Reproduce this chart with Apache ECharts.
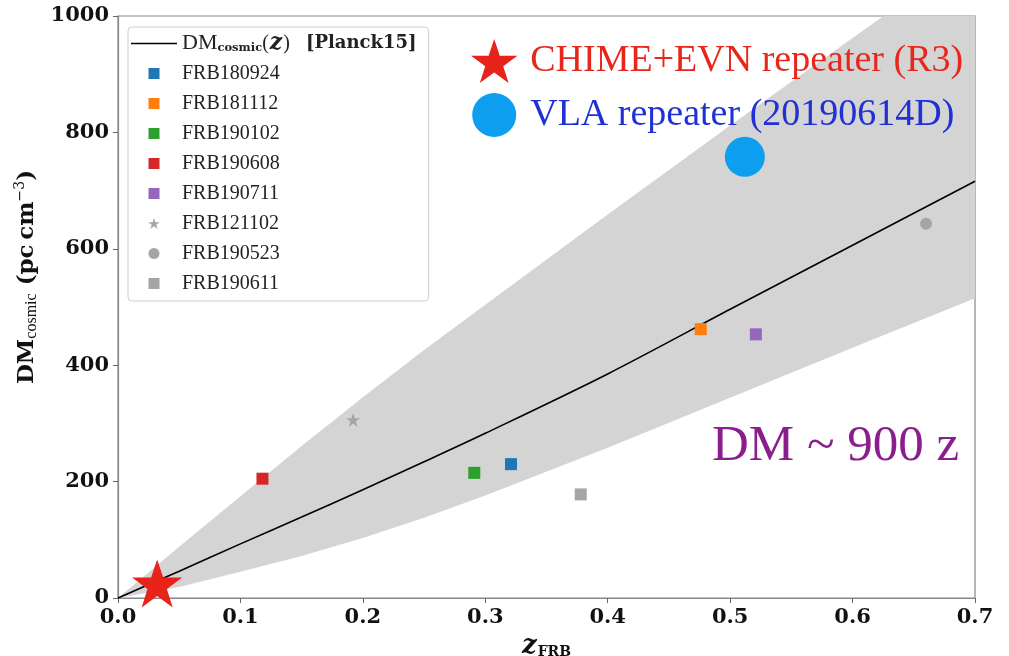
<!DOCTYPE html>
<html>
<head>
<meta charset="utf-8">
<script src="https://cdn.jsdelivr.net/npm/echarts@6/dist/echarts.min.js"></script>
<style>html,body{margin:0;padding:0;background:#fff;overflow:hidden;width:100%;height:100%;}#c{width:100vw;height:100vh;}</style>
</head>
<body>
<div id="c"></div>
<script>
// ---- data ----
const frbNames  = ['FRB180924','FRB181112','FRB190102','FRB190608','FRB190711','FRB121102','FRB190523','FRB190611'];
const frbZ      = [0.321, 0.476, 0.291, 0.118, 0.521, 0.192, 0.660, 0.378];
const frbDM     = [230, 462, 215, 205, 453, 306, 643, 178];
const frbColors = ['#1f77b4','#ff7f0e','#2ca02c','#d62728','#9467bd','#a5a5a5','#a5a5a5','#a5a5a5'];
const frbShapes = ['square','square','square','square','square','star','circle','square'];

const curveZ     = [0, 0.05, 0.1, 0.15, 0.2, 0.25, 0.3, 0.4, 0.5, 0.6, 0.7];
const curveMean  = [0, 46, 93, 139, 186, 234, 283, 385, 496, 606, 716];
const curveLower = [0, 19, 45, 72, 103, 138, 176, 258, 344, 430, 515];
const curveUpper = [0, 88, 175, 261, 345, 426, 504, 659, 812, 962, 1112];

const r3Name = 'CHIME+EVN repeater (R3)';
const r3Z = [0.032], r3DM = [25];
const vlaName = 'VLA repeater (20190614D)';
const vlaZ = [0.512], vlaDM = [758];

const xTicks = [0, 0.1, 0.2, 0.3, 0.4, 0.5, 0.6, 0.7];
const yTicks = [0, 200, 400, 600, 800, 1000];
const meanName = 'DMcosmic';

// ---- build ----
const STAR = 'path://M50,0 L61.8,35.1 L98.9,35.1 L69,57.3 L80.3,92.7 L50,70.5 L19.7,92.7 L31,57.3 L1.1,35.1 L38.2,35.1 Z';
const SQUARE = 'path://M0,0 L10,0 L10,10 L0,10 Z';
const LINE = 'path://M0,0 L100,0 L100,3.4 L0,3.4 Z';
const symMap = {square: SQUARE, star: STAR, circle: 'circle'};
const sizeMap = {square: 12, star: 14, circle: 12};

const series = [];
series.push({
  name: 'band', type: 'custom', clip: true, silent: true, z: 1,
  data: [0],
  renderItem: function (params, api) {
    const pts = [];
    curveZ.forEach((z, i) => pts.push(api.coord([z, curveUpper[i]])));
    for (let i = curveZ.length - 1; i >= 0; i--) pts.push(api.coord([curveZ[i], curveLower[i]]));
    return {type: 'polygon', shape: {points: pts}, style: {fill: '#d4d4d4'}};
  }
});
series.push({
  name: meanName, type: 'line', symbol: 'none', showSymbol: false,
  data: curveZ.map((z, i) => [z, curveMean[i]]),
  lineStyle: {color: '#000', width: 1.6}, z: 3, smooth: 0.3
});
frbNames.forEach((n, i) => {
  series.push({
    name: n, type: 'scatter', clip: false,
    symbol: symMap[frbShapes[i]], symbolSize: sizeMap[frbShapes[i]],
    itemStyle: {color: frbColors[i], opacity: 1},
    data: [[frbZ[i], frbDM[i]]], z: 4
  });
});
series.push({
  name: r3Name, type: 'scatter', clip: false, symbol: STAR, symbolSize: [50, 48],
  itemStyle: {color: '#e8231a', opacity: 1}, data: r3Z.map((z, i) => [z, r3DM[i]]), z: 5
});
series.push({
  name: vlaName, type: 'scatter', clip: false, symbol: 'circle', symbolSize: 40,
  itemStyle: {color: '#0d9ef0', opacity: 1}, data: vlaZ.map((z, i) => [z, vlaDM[i]]), z: 5
});

const legendData = [{name: meanName, icon: LINE, itemStyle: {color: '#000'}}].concat(
  frbNames.map((n, i) => ({name: n, icon: symMap[frbShapes[i]]}))
);

const serif = '"Liberation Serif", "DejaVu Serif", serif';
const dserif = '"DejaVu Serif", serif';

const option = {
  animation: false,
  backgroundColor: '#fff',
  grid: {left: 118, right: 34, top: 16, bottom: 58, outerBoundsMode: 'none', containLabel: false,
         show: true, borderColor: '#888', borderWidth: 1.2},
  xAxis: {
    type: 'value', min: xTicks[0], max: xTicks[xTicks.length - 1], interval: 0.1,
    axisLine: {lineStyle: {color: '#888', width: 1.2}},
    axisTick: {show: true, length: 5, lineStyle: {color: '#666'}},
    splitLine: {show: false},
    axisLabel: {formatter: v => v.toFixed(1), fontFamily: dserif, fontWeight: 'bold', fontSize: 21, color: '#111', margin: 9},
    name: '{z|z}{s|FRB}', nameLocation: 'middle', nameGap: 31,
    nameTextStyle: {
      rich: {
        z: {fontFamily: dserif, fontStyle: 'italic', fontWeight: 'bold', fontSize: 26, color: '#111'},
        s: {fontFamily: dserif, fontWeight: 'bold', fontSize: 14, color: '#111', padding: [12, 0, 0, 1]}
      }
    }
  },
  yAxis: {
    type: 'value', min: yTicks[0], max: yTicks[yTicks.length - 1], interval: 200,
    axisLine: {show: true, lineStyle: {color: '#888', width: 1.2}},
    axisTick: {show: true, length: 5, lineStyle: {color: '#666'}},
    splitLine: {show: false},
    axisLabel: {formatter: v => String(v), fontFamily: dserif, fontWeight: 'bold', fontSize: 21, color: '#111', margin: 9},
    name: '{b|DM}{s|cosmic}{b| (pc\u2009cm}{p|\u22123}{b|)}', nameLocation: 'middle', nameGap: 52, nameRotate: 90,
    nameTextStyle: {
      padding: [0, 0, 0, 60],
      rich: {
        b: {fontFamily: dserif, fontWeight: 'bold', fontSize: 23, color: '#111'},
        s: {fontFamily: serif, fontSize: 16, color: '#111', padding: [10, 0, 0, 0]},
        p: {fontFamily: dserif, fontSize: 14, color: '#111', padding: [0, 0, 12, 0]}
      }
    }
  },
  legend: [{
    orient: 'vertical', left: 128, top: 27,
    padding: [5, 12, 6, 3], itemGap: 7, itemWidth: 46, itemHeight: 11,
    backgroundColor: '#fff', borderColor: '#cfcfcf', borderWidth: 1, borderRadius: 4,
    selectedMode: false,
    data: legendData,
    formatter: function (name) {
      if (name === meanName) return '{dm|DM}{sub|cosmic}{r|(}{it|z}{r|)}   {bb|[Planck15]}';
      return '{r|' + name + '}';
    },
    textStyle: {
      color: '#222', lineHeight: 23,
      rich: {
        r: {fontFamily: serif, fontSize: 20, color: '#222', lineHeight: 23},
        dm: {fontFamily: serif, fontSize: 22, color: '#222', lineHeight: 23},
        sub: {fontFamily: dserif, fontWeight: 'bold', fontSize: 11.5, color: '#222', padding: [9, 0, 0, 0]},
        it: {fontFamily: dserif, fontStyle: 'italic', fontWeight: 'bold', fontSize: 22, color: '#222', padding: [0, 1, 0, 1]},
        bb: {fontFamily: dserif, fontWeight: 'bold', fontSize: 18, color: '#222', padding: [0, 0, 0, 6]}
      }
    }
  }, {
    orient: 'vertical', left: 466, top: 34,
    itemGap: 10, itemWidth: 50, itemHeight: 44, selectedMode: false,
    data: [
      {name: r3Name, icon: STAR, textStyle: {color: '#e8271c'}},
      {name: vlaName, icon: 'circle', textStyle: {color: '#1f30d4'}}
    ],
    textStyle: {fontFamily: serif, fontSize: 38, padding: [0, 0, 0, 6]}
  }],
  graphic: [{
    type: 'text', left: 712, top: 421, z: 100,
    style: {text: 'DM ~ 900 z', font: '51px "Liberation Serif"', fill: '#8b1e8e'}
  }],
  series: series
};

const chart = echarts.init(document.getElementById('c'), null, {renderer: 'canvas'});
chart.setOption(option);
</script>
</body>
</html>
